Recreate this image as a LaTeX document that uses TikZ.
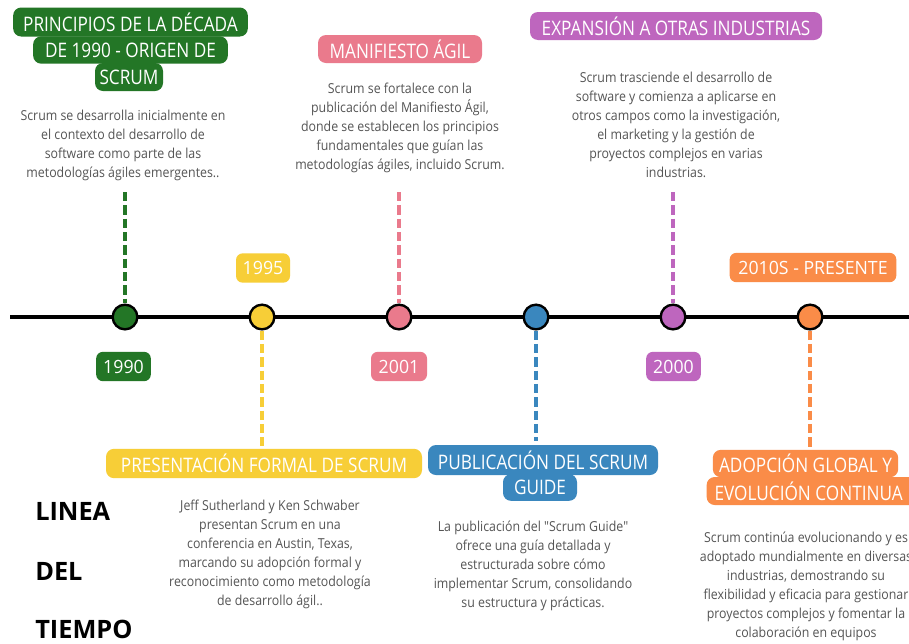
\documentclass[tikz,border=0pt]{standalone}
\usepackage{fontspec}
\setmainfont{Open Sans}
\newfontfamily\headfont[FakeStretch=0.86]{Open Sans}
\newfontfamily\yearfont[FakeStretch=0.97]{Open Sans}
\newfontfamily\bodyfont[FakeStretch=0.9]{Open Sans}
\usetikzlibrary{calc}
\definecolor{cgreen}{RGB}{35,118,38}
\definecolor{cyellow}{RGB}{247,206,55}
\definecolor{cpink}{RGB}{234,122,140}
\definecolor{cblue}{RGB}{58,135,190}
\definecolor{cpurple}{RGB}{190,102,190}
\definecolor{corange}{RGB}{250,140,72}
\definecolor{bodygray}{RGB}{85,85,85}
\begin{document}
\begin{tikzpicture}[x=0.75pt,y=-0.75pt,
  hbox/.style={fill=#1, text=white, rounded corners=6pt, font=\headfont\fontsize{15}{17}\selectfont, minimum height=21pt, inner sep=0pt},
  ybox/.style={fill=#1, text=white, rounded corners=5pt, font=\yearfont\fontsize{13.7}{15}\selectfont, minimum height=22pt, inner sep=0pt},
  body/.style={align=center, text=bodygray, font=\bodyfont\fontsize{10.3}{14.25}\selectfont, inner sep=0pt},
  dot/.style={circle, fill=#1, draw=black, line width=1.8pt, minimum size=18.5pt, inner sep=0pt},
  dl/.style={draw=#1, line width=3pt, dash pattern=on 7pt off 3pt},
  title/.style={anchor=west, font=\bfseries\fontsize{19}{22}\selectfont, text=black, inner sep=0pt}]

\useasboundingbox (0,0) rectangle (909,643);
\fill[white] (0,0) rectangle (909,643);

% timeline
\coordinate (tlA) at (10,317);
\coordinate (tlB) at (915,317);
\draw[line width=3pt] (tlA) -- (tlB);

% dots
\node[dot=cgreen]  (c1) at (125,317) {};
\node[dot=cyellow] (c2) at (262,317) {};
\node[dot=cpink]   (c3) at (399,317) {};
\node[dot=cblue]   (c4) at (536,317) {};
\node[dot=cpurple] (c5) at (673,317) {};
\node[dot=corange] (c6) at (810,317) {};

% headings
\node[hbox=cgreen, minimum width=176pt, minimum height=21.75pt] (h1a) at (130.5,22) {PRINCIPIOS DE LA DÉCADA};
\node[hbox=cgreen, minimum width=146pt, minimum height=20.5pt] (h1b) at (130.5,50) {DE 1990 - ORIGEN DE};
\node[hbox=cgreen, minimum width=51pt, minimum height=21pt] (h1c) at (129,77) {SCRUM};

\node[hbox=cpink, minimum width=123pt] (h3) at (400,49) {MANIFIESTO ÁGIL};
\node[hbox=cpurple, minimum width=219pt] (h5) at (676,26) {EXPANSIÓN A OTRAS INDUSTRIAS};

\node[hbox=cyellow, minimum width=237pt, minimum height=22pt] (h2) at (264,463.5) {PRESENTACIÓN FORMAL DE SCRUM};
\node[hbox=cblue, minimum width=172.5pt, minimum height=22.5pt] (h4a) at (543,460) {PUBLICACIÓN DEL SCRUM};
\node[hbox=cblue, minimum width=55.5pt, minimum height=20pt] (h4b) at (540,487.5) {GUIDE};
\node[hbox=corange, minimum width=139pt, minimum height=20.5pt] (h6a) at (805.5,463.5) {ADOPCIÓN GLOBAL Y};
\node[hbox=corange, minimum width=164pt, minimum height=21pt] (h6b) at (816,491) {\hspace*{-11pt}EVOLUCIÓN CONTINUA};

% years
\node[ybox=cyellow, minimum width=40.5pt] (y2) at (263,268) {1995};
\node[ybox=corange, minimum width=125pt] (y6) at (813,267.5) {2010S - PRESENTE};
\node[ybox=cgreen, minimum width=41pt] (y1) at (123.5,366.5) {1990};
\node[ybox=cpink, minimum width=42pt] (y3) at (399,366.5) {2001};
\node[ybox=cpurple, minimum width=41pt] (y5) at (673.5,366.5) {2000};

% bodies
\node[body] (b1) at (123,145.5) {Scrum se desarrolla inicialmente en\\el contexto del desarrollo de\\software como parte de las\\metodologías ágiles emergentes..};
\node[body] (b3) at (400,128) {Scrum se fortalece con la\\publicación del Manifiesto Ágil,\\donde se establecen los principios\\fundamentales que guían las\\metodologías ágiles, incluido Scrum.};
\node[body] (b5) at (676,124.5) {Scrum trasciende el desarrollo de\\software y comienza a aplicarse en\\otros campos como la investigación,\\el marketing y la gestión de\\proyectos complejos en varias\\industrias.};
\node[body] (b2) at (270,554) {Jeff Sutherland y Ken Schwaber\\presentan Scrum en una\\conferencia en Austin, Texas,\\marcando su adopción formal y\\reconocimiento como metodología\\de desarrollo ágil..};
\node[body] (b4) at (533,566) {La publicación del "Scrum Guide"\\ofrece una guía detallada y\\estructurada sobre cómo\\implementar Scrum, consolidando\\su estructura y prácticas.};
\node[body] (b6) at (806,586.5) {Scrum continúa evolucionando y es\\adoptado mundialmente en diversas\\industrias, demostrando su\\flexibilidad y eficacia para gestionar\\proyectos complejos y fomentar la\\colaboración en equipos};

% title
\node[title] (t1) at (35,511) {LINEA};
\node[title] (t2) at (35,571.5) {DEL};
\node[title] (t3) at (35,629) {TIEMPO};

% dashed connectors
\coordinate (e1) at (125,192);
\coordinate (e3) at (399,192);
\coordinate (e5) at (673,192);
\coordinate (e2) at (262,446);
\coordinate (e4) at (536,441);
\coordinate (e6) at (810,450);
\draw[dl=cgreen]  (e1) -- (c1.north);
\draw[dl=cpink]   (e3) -- (c3.north);
\draw[dl=cpurple] (e5) -- (c5.north);
\draw[dl=cyellow] (c2.south) -- (e2);
\draw[dl=cblue]   (c4.south) -- (e4);
\draw[dl=corange] (c6.south) -- (e6);
\end{tikzpicture}
\end{document}
